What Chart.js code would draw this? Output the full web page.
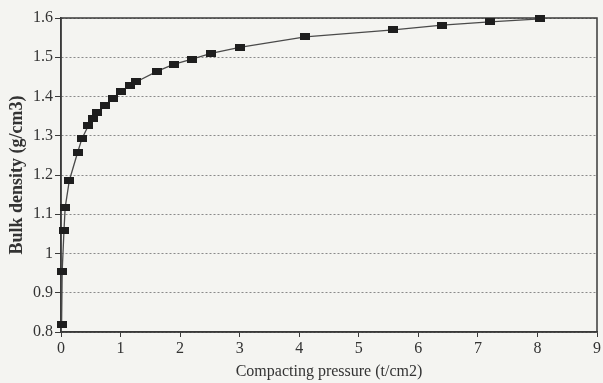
<!DOCTYPE html>
<html>
<head>
<meta charset="utf-8">
<script src="https://cdn.jsdelivr.net/npm/chart.js@4"></script>
<style>
  html, body { margin: 0; padding: 0; background: #f4f4f1; }
  #wrap { width: 603px; height: 383px; }
</style>
</head>
<body>
<div id="wrap"><canvas id="grafica" width="603" height="383"></canvas></div>
<script>
// datos
const presion = [0.01, 0.02, 0.05, 0.07, 0.14, 0.28, 0.35, 0.46, 0.53, 0.61, 0.74, 0.87, 1.0, 1.16, 1.26, 1.61, 1.89, 2.2, 2.52, 3.0, 4.1, 5.58, 6.4, 7.2, 8.05];
const densidad = [0.82, 0.955, 1.058, 1.117, 1.186, 1.258, 1.292, 1.326, 1.344, 1.359, 1.376, 1.395, 1.412, 1.429, 1.437, 1.464, 1.482, 1.495, 1.510, 1.525, 1.552, 1.570, 1.582, 1.590, 1.598];
const ticksX = [0, 1, 2, 3, 4, 5, 6, 7, 8, 9];
const ticksY = [0.8, 0.9, 1.0, 1.1, 1.2, 1.3, 1.4, 1.5, 1.6];

const fuente = 'Liberation Serif, Times New Roman, serif';

// marcador rectangular (más ancho que alto)
const marca = document.createElement('canvas');
marca.width = 10;
marca.height = 7;
const mctx = marca.getContext('2d');
mctx.fillStyle = '#1e1e1e';
mctx.fillRect(0, 0, 10, 7);

// marco alrededor del área de la gráfica
const marco = {
    id: 'marco',
    beforeDatasetsDraw(chart) {
        const a = chart.chartArea;
        const ctx = chart.ctx;
        ctx.save();
        ctx.strokeStyle = '#3a3a3a';
        ctx.lineWidth = 1.5;
        ctx.strokeRect(a.left, a.top, a.right - a.left, a.bottom - a.top);
        ctx.restore();
    }
};

new Chart(document.getElementById('grafica'), {
    type: 'scatter',
    data: {
        datasets: [{
            data: presion.map((p, i) => ({ x: p, y: densidad[i] })),
            showLine: true,
            clip: false,
            borderColor: '#4a4a4a',
            borderWidth: 1.3,
            pointStyle: marca,
            pointRadius: 4,
            tension: 0
        }]
    },
    options: {
        responsive: false,
        animation: false,
        layout: { padding: { top: 18, right: 6, left: 0, bottom: 0 } },
        plugins: { legend: { display: false }, tooltip: { enabled: false } },
        scales: {
            x: {
                type: 'linear',
                min: 0,
                max: 9,
                afterFit: s => { s.height = 51; },
                afterBuildTicks: s => { s.ticks = ticksX.map(v => ({ value: v })); },
                grid: { drawOnChartArea: false, drawTicks: true, tickLength: 5, color: '#3a3a3a', lineWidth: 1 },
                border: { color: '#3a3a3a', width: 1.5 },
                ticks: { color: '#333', padding: 2, font: { family: fuente, size: 16 }, maxRotation: 0 },
                title: {
                    display: true,
                    text: 'Compacting pressure (t/cm2)',
                    color: '#333',
                    font: { family: fuente, size: 16 },
                    padding: { top: 0, bottom: 2 }
                }
            },
            y: {
                type: 'linear',
                min: 0.8,
                max: 1.6,
                afterFit: s => { s.width = 61; },
                afterBuildTicks: s => { s.ticks = ticksY.map(v => ({ value: v })); },
                grid: { color: '#8a8a8a', lineWidth: 1, tickLength: 6, tickColor: '#3a3a3a' },
                border: { color: '#3a3a3a', width: 1.5, dash: [2, 2] },
                ticks: {
                    color: '#333',
                    padding: 2,
                    font: { family: fuente, size: 16 },
                    callback: v => String(parseFloat(v.toFixed(1)))
                },
                title: {
                    display: true,
                    text: 'Bulk density (g/cm3)',
                    color: '#333',
                    font: { family: fuente, size: 18, weight: 'bold' },
                    padding: { top: 7, bottom: 0 }
                }
            }
        }
    },
    plugins: [marco]
});
</script>
</body>
</html>
